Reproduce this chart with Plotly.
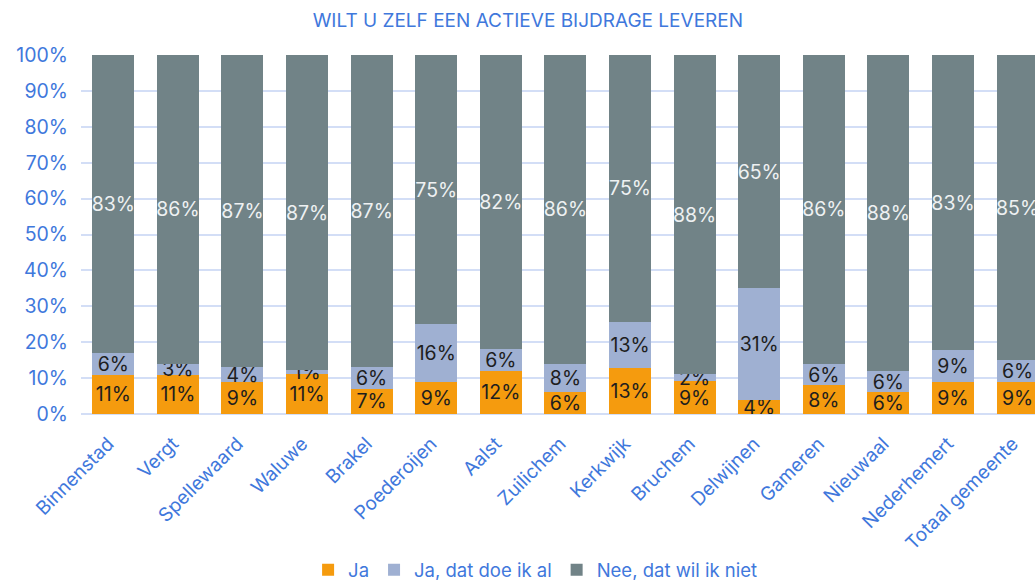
import plotly.graph_objects as go

categories = ["Binnenstad", "Vergt", "Spellewaard", "Waluwe", "Brakel", "Poederoijen",
              "Aalst", "Zuilichem", "Kerkwijk", "Bruchem", "Delwijnen", "Gameren",
              "Nieuwaal", "Nederhemert", "Totaal gemeente"]
ja = [11, 11, 9, 11, 7, 9, 12, 6, 13, 9, 4, 8, 6, 9, 9]
ja_al = [6, 3, 4, 1, 6, 16, 6, 8, 13, 2, 31, 6, 6, 9, 6]
nee = [83, 86, 87, 87, 87, 75, 82, 86, 75, 88, 65, 86, 88, 83, 85]
y_ticks = [0, 10, 20, 30, 40, 50, 60, 70, 80, 90, 100]

BLUE = "#3F78DC"
FONT = "Inter, Open Sans, sans-serif"

series = [
    ("Ja", ja, "#F59B0E", "#1E1E1E"),
    ("Ja, dat doe ik al", ja_al, "#9FB0D2", "#1E1E1E"),
    ("Nee, dat wil ik niet", nee, "#718387", "#EEF1F2"),
]

fig = go.Figure()
for name, vals, color, tcolor in series:
    fig.add_trace(go.Bar(
        name=name,
        x=categories,
        y=vals,
        marker=dict(color=color, line=dict(width=0)),
        text=[f"{v}%" for v in vals],
        textposition="inside",
        insidetextanchor="middle",
        textangle=0,
        constraintext="none",
        textfont=dict(family=FONT, size=19.5, color=tcolor),
        hoverinfo="x+y+name",
    ))

fig.update_layout(
    barmode="stack",
    barnorm="percent",
    bargap=0.35,
    width=1035,
    height=580,
    margin=dict(l=81, r=0, t=55, b=166, autoexpand=False),
    paper_bgcolor="white",
    plot_bgcolor="white",
    font=dict(family=FONT, color=BLUE),
    uniformtext=dict(minsize=19, mode="show"),
    title=dict(
        text="WILT U ZELF EEN ACTIEVE BIJDRAGE LEVEREN",
        font=dict(family=FONT, size=19, color=BLUE),
        x=0.51, xref="container", xanchor="center",
        y=0.965, yref="container", yanchor="middle",
    ),
    legend=dict(
        orientation="h",
        x=0.517, xref="container", xanchor="center",
        y=0.017, yref="container", yanchor="middle",
        font=dict(family=FONT, size=18.5, color=BLUE),
        itemsizing="constant",
        traceorder="normal",
        itemwidth=30,
    ),
    xaxis=dict(
        range=[-0.5, 14.27],
        tickangle=-45,
        tickfont=dict(family=FONT, size=19, color=BLUE),
        showgrid=False,
        showline=False,
        ticks="",
        automargin=False,
        ticklabelstandoff=14,
        ticklabelshift=-5,
    ),
    yaxis=dict(
        range=[0, 100],
        tickvals=y_ticks,
        ticktext=[f"{t}%" for t in y_ticks],
        tickfont=dict(family=FONT, size=19.5, color=BLUE),
        showgrid=True,
        gridcolor="#D3DEF6",
        gridwidth=2,
        zeroline=True,
        zerolinecolor="#D3DEF6",
        zerolinewidth=2,
        automargin=False,
        ticklabelstandoff=12,
    ),
)

fig.write_html("out.html")
